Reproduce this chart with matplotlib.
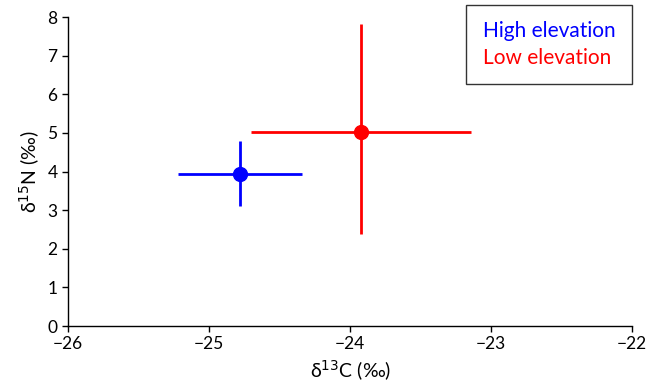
import matplotlib.pyplot as plt
from matplotlib.lines import Line2D

# --- Data -------------------------------------------------------------------
groups = ["High elevation", "Low elevation"]
colors = ["#0000ff", "#ff0000"]
d13c = [-24.78, -23.92]
d13c_err = [0.44, 0.78]
d15n = [3.94, 5.03]
d15n_err_low = [0.83, 2.65]
d15n_err_high = [0.84, 2.79]

plt.rcParams["font.family"] = ["Lato", "DejaVu Sans"]

fig = plt.figure(figsize=(6.6, 3.9), dpi=100)
ax = fig.add_axes([0.103, 0.164, 0.855, 0.792])

for i in range(len(groups)):
    ax.errorbar(d13c[i], d15n[i], xerr=d13c_err[i],
                yerr=[[d15n_err_low[i]], [d15n_err_high[i]]],
                fmt="o", color=colors[i], ms=10, elinewidth=2, capsize=0,
                zorder=3)

ax.set_xlim(-26, -22)
ax.set_ylim(0, 8)
ax.set_xticks([-26, -25, -24, -23, -22])
ax.set_xticklabels(["\u221226", "\u221225", "\u221224", "\u221223", "\u221222"])
ax.set_yticks(range(0, 9))
ax.tick_params(direction="out", length=4, width=1, labelsize=12.5)
for s in ["top", "right"]:
    ax.spines[s].set_visible(False)
for s in ["left", "bottom"]:
    ax.spines[s].set_linewidth(1)

ax.set_xlabel("δ$^{13}$C (‰)", fontsize=14)
ax.set_ylabel("δ$^{15}$N (‰)", fontsize=14)

handles = [Line2D([], [], color=c, marker=None, linestyle="none") for c in colors]
leg = ax.legend(handles, groups, loc="upper right", bbox_to_anchor=(1.0, 1.04),
                handlelength=0, handletextpad=0, labelcolor=colors,
                fancybox=False, edgecolor="black", fontsize=15,
                borderpad=0.6, labelspacing=0.3, borderaxespad=0)
leg._legend_box.sep = 0
leg.get_frame().set_linewidth(1)
# widen box to the left a bit like the reference
leg._legend_box.pad = 12

fig.savefig("out.png", dpi=100)
